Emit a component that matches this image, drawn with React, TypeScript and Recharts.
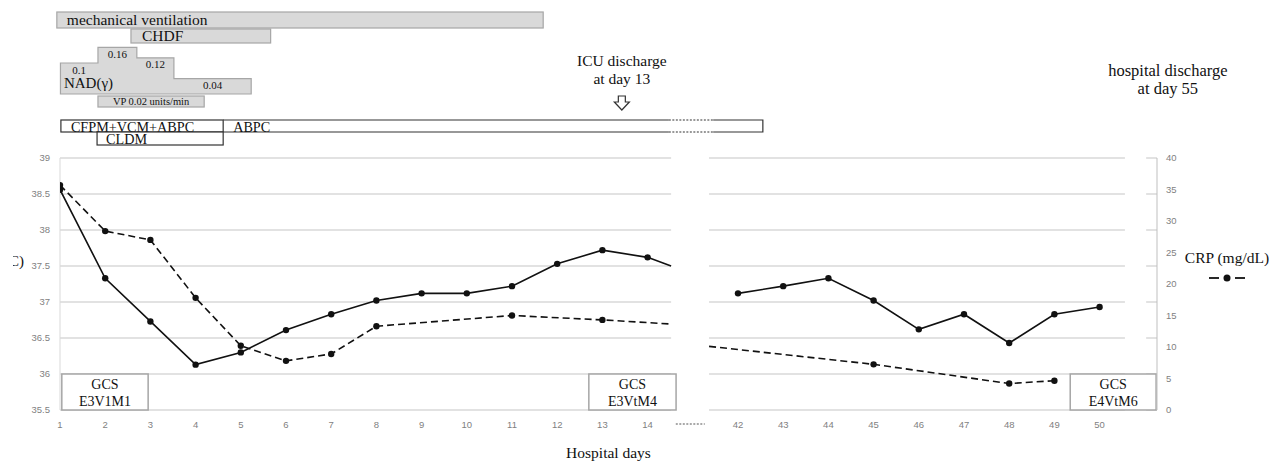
import {
  CartesianGrid,
  ComposedChart,
  Legend,
  Line,
  ReferenceArea,
  ReferenceDot,
  XAxis,
  YAxis,
} from "recharts";

const SERIF = '"Liberation Serif", "Times New Roman", serif';
const SANS = '"Liberation Sans", Arial, sans-serif';
const INK = "#111";

// hospital days on the axis; the stay is cut between day 14 and day 42
const DAYS = ["1", "2", "3", "4", "5", "6", "7", "8", "9", "10", "11", "12", "13", "14", "42", "43", "44", "45", "46", "47", "48", "49", "50"];
const TEMPERATURE = [38.56, 37.33, 36.73, 36.13, 36.3, 36.61, 36.83, 37.02, 37.12, 37.12, 37.22, 37.53, 37.72, 37.62, 37.12, 37.22, 37.33, 37.02, 36.62, 36.83, 36.43, 36.83, 36.93];
const CRP = [35.7, 28.4, 27.0, 17.8, 10.2, 7.8, 8.9, 13.3, null, null, 15.0, null, 14.3, null, null, null, null, 7.25, null, null, 4.2, 4.65, null];

// where the lines run into the axis break
const TEMP_AT_BREAK = 37.5;
const CRP_AT_BREAK = [13.65, 10.1];

const TEMP_TICKS = [35.5, 36, 36.5, 37, 37.5, 38, 38.5, 39];
const CRP_TICKS = [0, 5, 10, 15, 20, 25, 30, 35, 40];

// treatment periods, in axis slots (day 1 = slot 0, day 42 = slot 15)
const SUPPORT = [
  { name: "mechanical ventilation", from: -0.07, to: 10.69 },
  { name: "CHDF", from: 1.57, to: 4.66 },
];
const NAD_DOSES = [0.1, 0.16, 0.12, 0.04];
const NAD_CHANGES = [0.01, 0.84, 1.7, 2.52, 4.23];
const VP = { name: "VP 0.02 units/min", from: 0.84, to: 3.19 };
const ANTIBIOTICS = [
  { name: "ABPC", from: 3.61, to: 15.55 },
  { name: "CFPM+VCM+ABPC", from: 0.02, to: 3.61 },
  { name: "CLDM", from: 0.82, to: 3.61 },
];
const ABPC_DOTTED = [13.47, 14.45];
const GCS = [
  { score: "E3V1M1", from: 0.04, to: 1.95 },
  { score: "E3VtM4", from: 11.7, to: 13.63 },
  { score: "E4VtM6", from: 22.35, to: 24.25 },
];
const ICU_DISCHARGE = 12.43;
const HOSPITAL_DISCHARGE = 24.51;

// layout
const X_MAX = 24.27;
const BREAK = [13.52, 14.36];
const RIGHT_GAP = [23.56, 24.03];
const BREAK_SLOT = 14;
const PX_PER_DEG = 72; // plot height 252px over 3.5 °C
// timeline lanes, px above the plot top
const LANE = {
  vent: [130, 146],
  chdf: [115, 129],
  nadBase: 64,
  vp: [51, 62],
  abx: [26, 38],
  cldm: [13, 26],
  icuArrow: 62,
  hospital: 82,
};
// lane position -> value on the temperature axis, above its 39 °C top
const above = (px: number) => 39 + px / PX_PER_DEG;

const slotOf = (i: number) => (i < BREAK_SLOT ? i : i + 1);
const TICK_SLOTS = Array.from({ length: DAYS.length + 1 }, (_, i) => i);

const rows = [
  ...DAYS.map((day, i) => ({
    slot: slotOf(i),
    day,
    temp: TEMPERATURE[i],
    crpIcu: i < BREAK_SLOT ? CRP[i] : null,
    crpWard: i >= BREAK_SLOT ? CRP[i] : null,
    edge: false,
  })),
  { slot: BREAK[0], day: "", temp: TEMP_AT_BREAK, crpIcu: CRP_AT_BREAK[0], crpWard: null, edge: true },
  { slot: BREAK[1], day: "", temp: null, crpIcu: null, crpWard: CRP_AT_BREAK[1], edge: true },
].sort((a, b) => a.slot - b.slot);

function renderDot(props: any) {
  const { cx, cy, payload, value, index } = props;
  if (payload?.edge || value == null || cx == null || cy == null) return <g key={`e${index}`} />;
  return <circle key={`d${index}`} cx={cx} cy={cy} r={3.2} fill={INK} stroke="none" />;
}

function DayTick(props: any) {
  const { x, y, payload } = props;
  const slot = payload.value as number;
  if (slot === BREAK_SLOT) {
    return <line x1={x - 17} x2={x + 12} y1={y + 14} y2={y + 14} stroke="#555" strokeWidth={1.2} strokeDasharray="2 1.5" />;
  }
  return (
    <text x={x} y={y + 17.5} textAnchor="middle" fontFamily={SANS} fontSize={9.5} fill="#7f7f7f">
      {DAYS[slot < BREAK_SLOT ? slot : slot - 1]}
    </text>
  );
}

const grayBar = (name: string, pad: number, base: number) => (p: any) => (
  <g>
    <rect x={p.x} y={p.y} width={p.width} height={p.height} fill="#d9d9d9" stroke="#a6a6a6" strokeWidth={1.2} />
    <text x={p.x + pad} y={p.y + base} fontFamily={SERIF} fontSize={15.5} fill={INK}>{name}</text>
  </g>
);

const nadTop = (dose: number) => LANE.nadBase + 5 + dose * 260;
const NAD_MAX = Math.max(...NAD_DOSES.map(nadTop));

function NadShape(p: any) {
  const s0 = NAD_CHANGES[0];
  const s1 = NAD_CHANGES[NAD_CHANGES.length - 1];
  const px = (s: number) => p.x + ((s - s0) / (s1 - s0)) * p.width;
  const py = (v: number) => p.y + ((NAD_MAX - v) / (NAD_MAX - LANE.nadBase)) * p.height;
  const bottom = p.y + p.height;
  let d = `M${px(s0)},${bottom}`;
  NAD_DOSES.forEach((dose, i) => {
    d += ` L${px(NAD_CHANGES[i])},${py(nadTop(dose))} L${px(NAD_CHANGES[i + 1])},${py(nadTop(dose))}`;
  });
  d += ` L${px(s1)},${bottom} Z`;
  return (
    <g>
      <path d={d} fill="#d9d9d9" stroke="#a6a6a6" strokeWidth={1.2} />
      {NAD_DOSES.map((dose, i) => (
        <text
          key={i}
          x={px((NAD_CHANGES[i] + NAD_CHANGES[i + 1]) / 2)}
          y={py(nadTop(dose)) + 10.5}
          textAnchor="middle"
          fontFamily={SERIF}
          fontSize={11}
          fill={INK}
        >
          {String(dose)}
        </text>
      ))}
      <text x={px(s0) + 3.5} y={bottom - 6} fontFamily={SERIF} fontSize={15} fill={INK}>NAD(γ)</text>
    </g>
  );
}

function VpShape(p: any) {
  return (
    <g>
      <rect x={p.x} y={p.y} width={p.width} height={p.height} fill="#d9d9d9" stroke="#a6a6a6" strokeWidth={1.2} />
      <text x={p.x + p.width / 2} y={p.y + p.height - 2.5} textAnchor="middle" fontFamily={SERIF} fontSize={10.5} fill={INK}>
        {VP.name}
      </text>
    </g>
  );
}

const whiteBox = (name: string, pad: number) => (p: any) => (
  <g>
    <rect x={p.x} y={p.y} width={p.width} height={p.height} fill="#fff" stroke="#333" strokeWidth={1.2} />
    <text x={p.x + pad} y={p.y + 11.5} fontFamily={SERIF} fontSize={14.2} fill={INK}>{name}</text>
  </g>
);

function AbpcShape(p: any) {
  const { from, to, name } = ANTIBIOTICS[0];
  const px = (s: number) => p.x + ((s - from) / (to - from)) * p.width;
  const a = px(ABPC_DOTTED[0]);
  const b = px(ABPC_DOTTED[1]);
  const top = p.y;
  const bot = p.y + p.height;
  const right = p.x + p.width;
  return (
    <g>
      <rect x={p.x} y={top} width={p.width} height={p.height} fill="#fff" stroke="none" />
      <path d={`M${p.x},${top} H${a} M${b},${top} H${right} V${bot} H${b} M${a},${bot} H${p.x}`} fill="none" stroke="#333" strokeWidth={1.2} />
      <path d={`M${a},${top} H${b} M${a},${bot} H${b}`} fill="none" stroke="#333" strokeWidth={1.2} strokeDasharray="2 1.5" />
      <text x={p.x + 10} y={top + 11.5} fontFamily={SERIF} fontSize={14.2} fill={INK}>{name}</text>
    </g>
  );
}

const gcsBox = (score: string) => (p: any) => (
  <g>
    <rect x={p.x} y={p.y} width={p.width} height={p.height} fill="#fff" stroke="#a6a6a6" strokeWidth={1.5} />
    <text x={p.x + p.width / 2} y={p.y + 14.5} textAnchor="middle" fontFamily={SERIF} fontSize={14} fill={INK}>GCS</text>
    <text x={p.x + p.width / 2} y={p.y + 32} textAnchor="middle" fontFamily={SERIF} fontSize={14} fill={INK}>{score}</text>
  </g>
);

function IcuNote(p: any) {
  const { cx, cy } = p;
  return (
    <g>
      <text x={cx} y={cy - 30} textAnchor="middle" fontFamily={SERIF} fontSize={15.5} fill={INK}>ICU discharge</text>
      <text x={cx} y={cy - 12.5} textAnchor="middle" fontFamily={SERIF} fontSize={15.5} fill={INK}>at day 13</text>
      <path
        d={`M${cx - 3.5},${cy} h7 v6 h4 l-7.5,8 l-7.5,-8 h4 z`}
        fill="#fff"
        stroke="#333"
        strokeWidth={1.2}
      />
    </g>
  );
}

function HospitalNote(p: any) {
  const { cx, cy } = p;
  return (
    <g>
      <text x={cx} y={cy} textAnchor="middle" fontFamily={SERIF} fontSize={16.5} fill={INK}>hospital discharge</text>
      <text x={cx} y={cy + 18} textAnchor="middle" fontFamily={SERIF} fontSize={16.5} fill={INK}>at day 55</text>
    </g>
  );
}

function CrpLegend() {
  return (
    <div style={{ fontFamily: SERIF, fontSize: 15.5, color: INK, textAlign: "center", lineHeight: "18px" }}>
      <div>CRP (mg/dL)</div>
      <svg width={40} height={10} style={{ display: "block", margin: "6px auto 0" }}>
        <line x1={2} x2={12} y1={5} y2={5} stroke={INK} strokeWidth={1.8} />
        <line x1={28} x2={38} y1={5} y2={5} stroke={INK} strokeWidth={1.8} />
        <circle cx={20} cy={5} r={3.5} fill={INK} />
      </svg>
    </div>
  );
}

const tickStyle = { fontSize: 9.5, fill: "#7f7f7f", fontFamily: SANS };

export default function App() {
  return (
    <div style={{ position: "relative", width: 1269, height: 467, background: "#fff" }}>
      <style>{"body{margin:0}"}</style>
      <div
        style={{
          position: "absolute",
          left: 13,
          top: 253,
          width: 11,
          overflow: "hidden",
          display: "flex",
          justifyContent: "flex-end",
          whiteSpace: "nowrap",
          fontFamily: SERIF,
          fontSize: 15,
          color: INK,
          zIndex: 2,
        }}
      >
        (°C)
      </div>
      <ComposedChart width={1269} height={467} data={rows} margin={{ top: 158, right: 0, bottom: 7, left: 0 }}>
        <CartesianGrid yAxisId="t" vertical={false} stroke="#d9d9d9" strokeWidth={1.4} />
        <XAxis
          dataKey="slot"
          type="number"
          domain={[0, X_MAX]}
          ticks={TICK_SLOTS}
          interval={0}
          allowDataOverflow
          axisLine={false}
          tickLine={false}
          tickSize={0}
          tickMargin={0}
          height={50}
          tick={(props: any) => <DayTick {...props} />}
          label={{ value: "Hospital days", position: "insideBottom", offset: 2, fill: INK, fontSize: 15.5, fontFamily: SERIF }}
        />
        <YAxis
          yAxisId="t"
          width={60}
          domain={[35.5, 39]}
          ticks={TEMP_TICKS}
          interval={0}
          allowDataOverflow
          axisLine={{ stroke: "#d9d9d9" }}
          tickLine={false}
          tickSize={0}
          tickMargin={10}
          tick={tickStyle}
        />
        <YAxis
          yAxisId="crp"
          orientation="right"
          width={112}
          domain={[0, 40]}
          ticks={CRP_TICKS}
          interval={0}
          axisLine={{ stroke: "#bfbfbf" }}
          tickLine={false}
          tickSize={0}
          tickMargin={9}
          tick={tickStyle}
        />

        {/* white gaps in the grid */}
        <ReferenceArea yAxisId="t" x1={BREAK[0]} x2={BREAK[1]} y1={35.45} y2={39.05} fill="#fff" fillOpacity={1} stroke="none" ifOverflow="visible" />
        <ReferenceArea yAxisId="t" x1={RIGHT_GAP[0]} x2={RIGHT_GAP[1]} y1={35.45} y2={39.05} fill="#fff" fillOpacity={1} stroke="none" ifOverflow="visible" />

        {/* treatment timeline above the plot */}
        <ReferenceArea yAxisId="t" x1={SUPPORT[0].from} x2={SUPPORT[0].to} y1={above(LANE.vent[0])} y2={above(LANE.vent[1])} ifOverflow="visible" shape={grayBar(SUPPORT[0].name, 10, 12.5)} />
        <ReferenceArea yAxisId="t" x1={SUPPORT[1].from} x2={SUPPORT[1].to} y1={above(LANE.chdf[0])} y2={above(LANE.chdf[1])} ifOverflow="visible" shape={grayBar(SUPPORT[1].name, 11, 11.7)} />
        <ReferenceArea
          yAxisId="t"
          x1={NAD_CHANGES[0]}
          x2={NAD_CHANGES[NAD_CHANGES.length - 1]}
          y1={above(LANE.nadBase)}
          y2={above(NAD_MAX)}
          ifOverflow="visible"
          shape={(p: any) => <NadShape {...p} />}
        />
        <ReferenceArea yAxisId="t" x1={VP.from} x2={VP.to} y1={above(LANE.vp[0])} y2={above(LANE.vp[1])} ifOverflow="visible" shape={(p: any) => <VpShape {...p} />} />
        <ReferenceArea yAxisId="t" x1={ANTIBIOTICS[0].from} x2={ANTIBIOTICS[0].to} y1={above(LANE.abx[0])} y2={above(LANE.abx[1])} ifOverflow="visible" shape={(p: any) => <AbpcShape {...p} />} />
        <ReferenceArea yAxisId="t" x1={ANTIBIOTICS[1].from} x2={ANTIBIOTICS[1].to} y1={above(LANE.abx[0])} y2={above(LANE.abx[1])} ifOverflow="visible" shape={whiteBox(ANTIBIOTICS[1].name, 10)} />
        <ReferenceArea yAxisId="t" x1={ANTIBIOTICS[2].from} x2={ANTIBIOTICS[2].to} y1={above(LANE.cldm[0])} y2={above(LANE.cldm[1])} ifOverflow="visible" shape={whiteBox(ANTIBIOTICS[2].name, 9)} />
        <ReferenceDot yAxisId="t" x={ICU_DISCHARGE} y={above(LANE.icuArrow)} r={1} ifOverflow="visible" shape={(p: any) => <IcuNote {...p} />} />
        <ReferenceDot yAxisId="t" x={HOSPITAL_DISCHARGE} y={above(LANE.hospital)} r={1} ifOverflow="visible" shape={(p: any) => <HospitalNote {...p} />} />

        {/* GCS boxes */}
        {GCS.map((g) => (
          <ReferenceArea key={g.score} yAxisId="t" x1={g.from} x2={g.to} y1={35.5} y2={36.0} ifOverflow="visible" shape={gcsBox(g.score)} />
        ))}

        <Line yAxisId="t" dataKey="temp" name="Body temperature" type="linear" stroke={INK} strokeWidth={1.6} dot={renderDot} activeDot={false} connectNulls={false} isAnimationActive={false} legendType="none" />
        <Line yAxisId="crp" dataKey="crpIcu" name="CRP (mg/dL)" type="linear" stroke={INK} strokeWidth={1.6} strokeDasharray="7 4" dot={renderDot} activeDot={false} connectNulls isAnimationActive={false} />
        <Line yAxisId="crp" dataKey="crpWard" name="CRP ward" type="linear" stroke={INK} strokeWidth={1.6} strokeDasharray="7 4" dot={renderDot} activeDot={false} connectNulls isAnimationActive={false} legendType="none" />

        <Legend
          layout="horizontal"
          verticalAlign="middle"
          align="center"
          content={() => <CrpLegend />}
          wrapperStyle={{ left: 1180, top: 249, width: 94, height: 42 }}
        />
      </ComposedChart>
    </div>
  );
}
